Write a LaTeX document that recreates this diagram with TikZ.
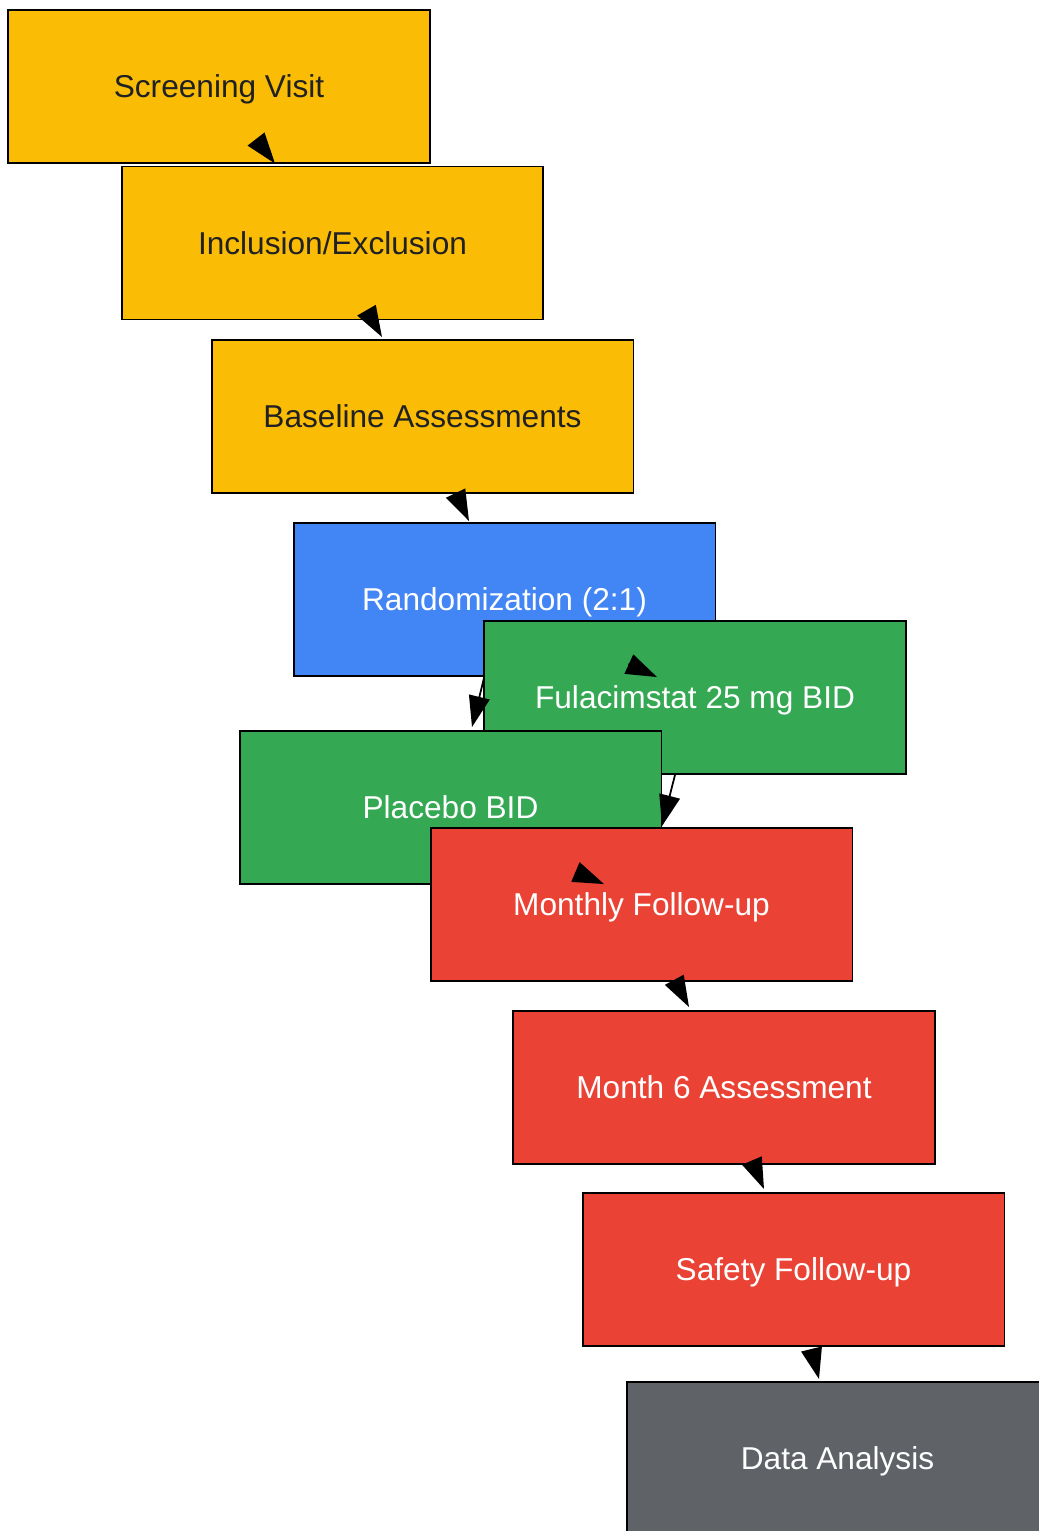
\documentclass[tikz,border=0pt]{standalone}
\usepackage{fontspec}
\setmainfont{Liberation Sans}
\usetikzlibrary{calc}
\usetikzlibrary{arrows.meta}

\definecolor{stageyellow}{HTML}{FBBC05}
\definecolor{stageblue}{HTML}{4285F4}
\definecolor{stagegreen}{HTML}{34A853}
\definecolor{stagered}{HTML}{EA4335}
\definecolor{stagegray}{HTML}{5F6368}
\definecolor{darktext}{HTML}{202124}

\begin{document}
\begin{tikzpicture}[x=0.02cm,y=-0.02cm,
    box/.style={draw=black,line width=1.1pt,minimum width=8.44cm,minimum height=3.06cm,inner sep=0pt,text height=12.9pt,text depth=0pt,font=\fontsize{18}{22}\selectfont},
    prep/.style={box,fill=stageyellow,text=darktext},
    alloc/.style={box,fill=stageblue,text=white},
    treat/.style={box,fill=stagegreen,text=white},
    visit/.style={box,fill=stagered,text=white},
    analysis/.style={box,fill=stagegray,text=white},
    flow/.style={arrows={-Triangle[length=0.62cm,width=0.42cm]},line width=1pt,black}]
    \useasboundingbox (0,0) rectangle (1038,1531);

    \node [prep]     (screen) at (219,86.5)    {Screening Visit};
    \node [prep]     (incl)   at (332.5,243)   {Inclusion/Exclusion};
    \node [prep]     (base)   at (422.5,416.5) {Baseline Assessments};
    \node [alloc]    (rand)   at (504.5,599.5) {Randomization (2:1)};
    \node [treat]    (fula)   at (695,697.5)   {Fulacimstat 25 mg BID};
    \node [treat]    (plac)   at (450.5,807.5) {Placebo BID};
    \node [visit]    (month)  at (641.5,904.5) {Monthly Follow-up};
    \node [visit]    (msix)   at (724,1087.5)  {Month 6 Assessment};
    \node [visit]    (safe)   at (793.5,1269.5) {Safety Follow-up};
    \node [analysis] (data)   at (837.5,1458.5) {Data Analysis};

    \draw [flow] ($(screen.south)+(38.5,-23)$) -- ($(incl.north)+(-57.5,-2)$);
    \draw [flow] ($(incl.south)+(35,-8.5)$) -- ($(base.north)+(-40.5,-2)$);
    \draw [flow] ($(base.south)+(33.5,0)$) -- ($(rand.north)+(-35.5,-1)$);
    \draw [flow] ($(rand.south)+(124,-13)$) -- ($(fula.north)+(-38,57)$);
    \draw [flow] ($(rand.south)+(-20.5,1)$) -- ($(plac.north)+(21.5,-3)$);
    \draw [flow] ($(fula.south)+(-20,0)$) -- ($(month.north)+(20.5,-1)$);
    \draw [flow] ($(plac.south)+(126,-12.5)$) -- ($(month.north)+(-37.5,57)$);
    \draw [flow] ($(month.south)+(34.5,1)$) -- ($(msix.north)+(-35,-3)$);
    \draw [flow] ($(msix.south)+(28.5,-3)$) -- ($(safe.north)+(-29.5,-3)$);
    \draw [flow] ($(safe.south)+(18.5,4)$) -- ($(data.north)+(-18.5,-2)$);

\end{tikzpicture}
\end{document}
